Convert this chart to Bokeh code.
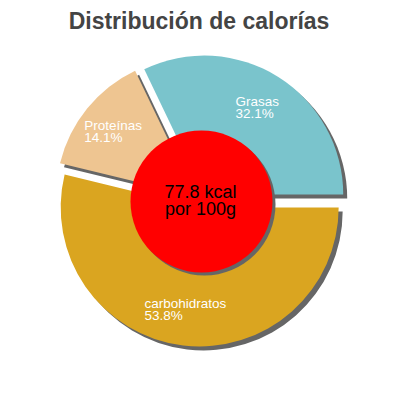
import math
from bokeh.plotting import figure
from bokeh.models import Range1d
from bokeh.core.properties import value
from bokeh.embed import file_html
from bokeh.resources import INLINE

# ---- data ----
title_text = "Distribución de calorías"
categories = ["Grasas", "Proteínas", "carbohidratos"]
percents = [32.1, 14.1, 53.8]
colors = ["#7AC4CC", "#EEC591", "#DAA520"]
center_lines = ["77.8 kcal", "por 100g"]

# ---- layout constants ----
FONT = "Liberation Sans"
CX, CY = 200.0, 200.0      # pie centre (data coords, y up)
R = 139.0                  # pie radius
EXPLODE = 7.0              # slice offset
SH = 4.0                   # shadow offset
LABEL_R = 103.0
LABEL_SIZE = 13.5
HOLE_R = 71.0
SHADOW = "#666666"
TDY = 5.0                  # baseline correction for text glyphs

# approximate Arial advance widths (em/1000) for left-aligned label blocks
ADV = {c: 556 for c in "0123456789abdehnopqu"}
ADV.update({"c": 500, "r": 333, "i": 222, "t": 278, "s": 500, "G": 778,
            "P": 667, "í": 278, ".": 278, "%": 889, "k": 500, "l": 222, " ": 278})


def text_w(s, size):
    return sum(ADV.get(ch, 556) for ch in s) / 1000.0 * size


p = figure(width=384, height=384, x_range=Range1d(0, 384), y_range=Range1d(16, 400),
           output_backend="svg", toolbar_location=None, min_border=0,
           x_axis_location=None, y_axis_location=None)
p.grid.visible = False
p.outline_line_color = None
p.background_fill_color = "white"
p.border_fill_color = "white"

total = sum(percents)
starts, ends, mids, cxs, cys = [], [], [], [], []
acc = 0.0
for v in percents:
    a0 = acc / total * 2 * math.pi
    acc += v
    a1 = acc / total * 2 * math.pi
    m = (a0 + a1) / 2
    starts.append(a0)
    ends.append(a1)
    mids.append(m)
    cxs.append(CX + EXPLODE * math.cos(m))
    cys.append(CY + EXPLODE * math.sin(m))

# shadows
p.wedge(x=[x + SH for x in cxs], y=[y - SH for y in cys], radius=R,
        start_angle=starts, end_angle=ends, direction="anticlock",
        fill_color=SHADOW, line_color=None)
# slices
p.wedge(x=cxs, y=cys, radius=R, start_angle=starts, end_angle=ends,
        direction="anticlock", fill_color=colors, line_color=None)

# centre disc with shadow
p.circle(x=[CX + 1 + 3], y=[CY - 1 - 3], radius=HOLE_R, fill_color=SHADOW, line_color=None)
p.circle(x=[CX + 1], y=[CY - 1], radius=HOLE_R, fill_color="#FF0000", line_color=None)

# labels
for name, v, m, cx, cy in zip(categories, percents, mids, cxs, cys):
    bx = cx + LABEL_R * math.cos(m)
    by = cy + LABEL_R * math.sin(m)
    l1 = name
    l2 = f"{v:.1f}%"
    w = max(text_w(l1, LABEL_SIZE), text_w(l2, LABEL_SIZE))
    left = bx - w / 2 - 2
    p.text(x=[left, left], y=[by + 1 + TDY, by - 11 + TDY], text=[l1, l2],
           text_font=value(FONT), text_font_size=f"{LABEL_SIZE}px",
           text_color="white", text_align="left", text_baseline="alphabetic")

# centre text
p.text(x=[CX, CX], y=[CY + 4 + TDY, CY - 13 + TDY], text=center_lines,
       text_font=value(FONT), text_font_size="18px", text_color="black",
       text_align="center", text_baseline="alphabetic")

# title
p.text(x=[198.5], y=[400 - 25 + TDY], text=[title_text], text_font=value(FONT),
       text_font_size="23px", text_font_style="bold", text_color="#444444",
       text_align="center", text_baseline="alphabetic")

open("out.html", "w").write(file_html(p, INLINE))
